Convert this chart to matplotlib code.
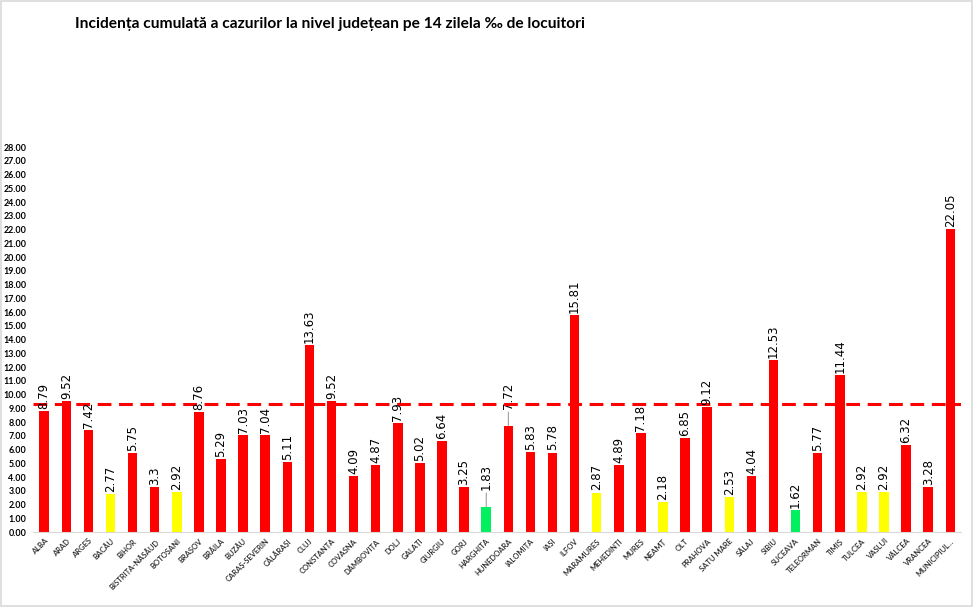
import matplotlib
matplotlib.use("Agg")
import matplotlib.pyplot as plt
from matplotlib.patches import Rectangle

judete = ['ALBA', 'ARAD', 'ARGEȘ', 'BACĂU', 'BIHOR', 'BISTRIȚA-NĂSĂUD', 'BOTOȘANI',
          'BRAȘOV', 'BRĂILA', 'BUZĂU', 'CARAȘ-SEVERIN', 'CĂLĂRAȘI', 'CLUJ', 'CONSTANȚA',
          'COVASNA', 'DÂMBOVIȚA', 'DOLJ', 'GALAȚI', 'GIURGIU', 'GORJ', 'HARGHITA',
          'HUNEDOARA', 'IALOMIȚA', 'IAȘI', 'ILFOV', 'MARAMUREȘ', 'MEHEDINȚI', 'MUREȘ',
          'NEAMȚ', 'OLT', 'PRAHOVA', 'SATU MARE', 'SĂLAJ', 'SIBIU', 'SUCEAVA',
          'TELEORMAN', 'TIMIȘ', 'TULCEA', 'VASLUI', 'VÂLCEA', 'VRANCEA', 'MUNICIPIUL...']
incidenta = [8.79, 9.52, 7.42, 2.77, 5.75, 3.3, 2.92, 8.76, 5.29, 7.03, 7.04, 5.11,
             13.63, 9.52, 4.09, 4.87, 7.93, 5.02, 6.64, 3.25, 1.83, 7.72, 5.83, 5.78,
             15.81, 2.87, 4.89, 7.18, 2.18, 6.85, 9.12, 2.53, 4.04, 12.53, 1.62, 5.77,
             11.44, 2.92, 2.92, 6.32, 3.28, 22.05]
culori = ['r', 'r', 'r', 'y', 'r', 'r', 'y', 'r', 'r', 'r', 'r', 'r', 'r', 'r', 'r', 'r',
          'r', 'r', 'r', 'r', 'g', 'r', 'r', 'r', 'r', 'y', 'r', 'r', 'y', 'r', 'r', 'y',
          'r', 'r', 'g', 'r', 'r', 'y', 'y', 'r', 'r', 'r']
prag = 9.34
cu_linie = ['HARGHITA', 'HUNEDOARA']

paleta = {'r': '#ff0000', 'y': '#ffff00', 'g': '#00f060'}

fig = plt.figure(figsize=(9.75, 6.08), dpi=100)
fig.patches.append(Rectangle((0.001, 0.004), 0.996, 0.994, transform=fig.transFigure,
                             fill=False, edgecolor='#d9d9d9', lw=1.2))
ax = fig.add_axes([0.034, 0.125, 0.952, 0.633])

x = range(len(judete))
ax.bar(x, incidenta, width=0.43, color=[paleta[c] for c in culori], zorder=2)

for i, v in enumerate(incidenta):
    if judete[i] in cu_linie:
        ax.annotate(str(v), xy=(i, v), xytext=(0, 12), textcoords='offset points',
                    ha='center', va='bottom', rotation=90, fontsize=8.5,
                    arrowprops=dict(arrowstyle='-', color='#808080', lw=0.6,
                                    shrinkA=0, shrinkB=0))
    else:
        ax.annotate(str(v), xy=(i, v), xytext=(0, 1.5), textcoords='offset points',
                    ha='center', va='bottom', rotation=90, fontsize=8.5, zorder=4)

ax.axhline(prag, color='#ff0000', lw=2.2, linestyle=(0, (4.5, 2.5)), zorder=3)

ax.set_xlim(-0.5, len(judete) - 0.5)
ax.set_ylim(0, 28)
ax.set_yticks(range(0, 29))
ax.set_yticklabels([f'{t:.2f}' for t in range(0, 29)], fontsize=6.4,
                   fontweight='bold', family=['Lato', 'DejaVu Sans'])
ax.set_xticks(list(x))
ax.set_xticklabels(judete, rotation=45, ha='right', rotation_mode='anchor',
                   fontsize=5.5, color='#262626', fontweight='semibold',
                   family=['Lato', 'DejaVu Sans'])
ax.tick_params(length=0, pad=4)
ax.tick_params(axis='y', pad=5)
for s in ['top', 'right', 'left']:
    ax.spines[s].set_visible(False)
ax.spines['bottom'].set_color('#d9d9d9')

fig.text(0.077, 0.972, 'Incidența cumulată a cazurilor la nivel județean pe 14 zilela ‰ de locuitori',
         fontsize=11.2, fontweight='bold', va='top', family=['Lato', 'DejaVu Sans'])

fig.savefig('out.png', dpi=100)
